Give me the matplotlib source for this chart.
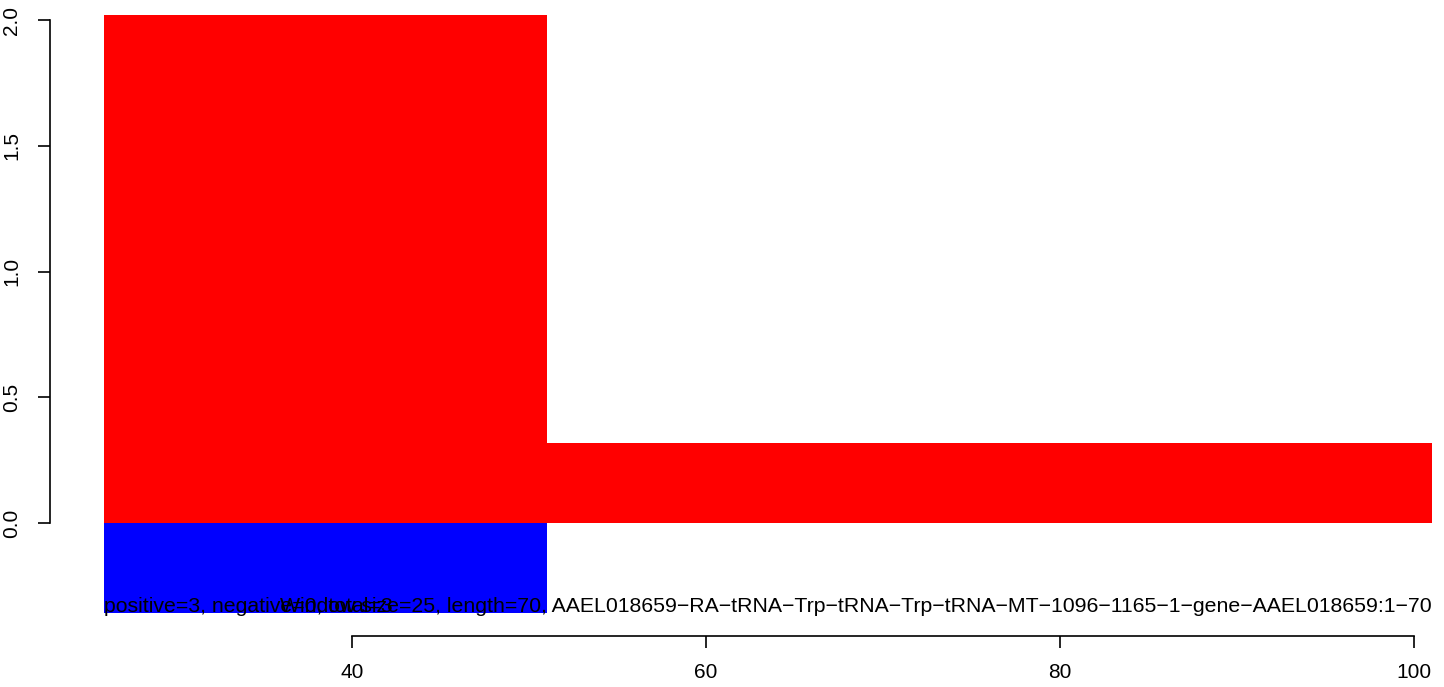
import matplotlib
matplotlib.use("Agg")
import matplotlib.pyplot as plt

plt.rcParams['font.family'] = ['Liberation Sans', 'DejaVu Sans']

# bins (left edge, width) and stacked values
bin_left = [26, 51]
bin_width = [25, 50]
pos_height = [2.02, 0.318]
neg_height = [-0.357, 0.0]

x_ticks = [40, 60, 80, 100]
y_ticks = [0.0, 0.5, 1.0, 1.5, 2.0]
y_labels = ["0.0", "0.5", "1.0", "1.5", "2.0"]

count_text = "positive=3, negative=0, total=3"
info_text = ("Window size=25, length=70, AAEL018659-RA-tRNA-Trp-tRNA-Trp-tRNA-MT-1096-1165-1-gene-AAEL018659:1-70"
             .replace("-", "\u2212"))

W, H = 1444, 687
fig = plt.figure(figsize=(W / 100, H / 100), dpi=100)
ax = fig.add_axes([104 / W, 1 - 613 / H, (1432 - 104) / W, (613 - 15) / H])

ax.bar(bin_left, pos_height, width=bin_width, align='edge', color='red', linewidth=0)
ax.bar(bin_left, neg_height, width=bin_width, align='edge', color='blue', linewidth=0)

ax.set_xlim(26, 101)
ax.set_ylim(-0.357, 2.02)

# the two labels overlap in the original too
ax.text(26, -0.33, count_text, ha='left', va='center', fontsize=15.3)
ax.text(101, -0.33, info_text, ha='right', va='center', fontsize=15.3)

# R style detached axes
for s in ['top', 'right']:
    ax.spines[s].set_visible(False)
ax.spines['bottom'].set_position(('outward', 23 * 0.72))
ax.spines['bottom'].set_bounds(40, 100)
ax.spines['left'].set_position(('outward', 54 * 0.72))
ax.spines['left'].set_bounds(0, 2)
for s in ['bottom', 'left']:
    ax.spines[s].set_linewidth(1.2)

ax.set_xticks(x_ticks)
ax.set_yticks(y_ticks)
ax.set_yticklabels(y_labels, rotation=90, va='center')
ax.tick_params(axis='both', direction='out', length=12 * 0.72, width=1.2, labelsize=15)
ax.tick_params(axis='x', pad=11)
ax.tick_params(axis='y', pad=12)

fig.savefig("out.png", dpi=100)
